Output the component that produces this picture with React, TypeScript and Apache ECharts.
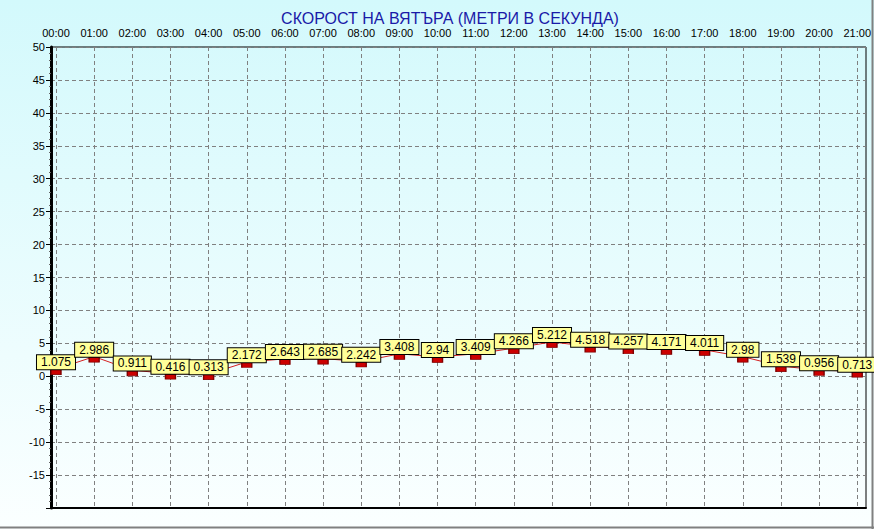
import React, { useEffect, useRef } from "react";
import * as echarts from "echarts";

const titleText = "СКОРОСТ НА ВЯТЪРА (МЕТРИ В СЕКУНДА)";
const hours = [
  "00:00", "01:00", "02:00", "03:00", "04:00", "05:00", "06:00", "07:00",
  "08:00", "09:00", "10:00", "11:00", "12:00", "13:00", "14:00", "15:00",
  "16:00", "17:00", "18:00", "19:00", "20:00", "21:00",
];
const windSpeed = [
  1.075, 2.986, 0.911, 0.416, 0.313, 2.172, 2.643, 2.685, 2.242, 3.408, 2.94,
  3.409, 4.266, 5.212, 4.518, 4.257, 4.171, 4.011, 2.98, 1.539, 0.956, 0.713,
];
const yMin = -20;
const yMax = 50;
const yStep = 5;

const FONT = "Liberation Sans, Arial, sans-serif";

export default function App() {
  const ref = useRef<HTMLDivElement>(null);
  useEffect(() => {
    if (!ref.current) return;
    const chart = echarts.init(ref.current, null, { renderer: "svg" });
    const gridGeom = { top: 47, bottom: 21 };
    chart.setOption({
      animation: false,
      backgroundColor: "transparent",
      title: {
        text: titleText,
        left: 445,
        textAlign: "center",
        top: 5,
        textStyle: { color: "#1a1aa8", fontSize: 16, fontWeight: "normal", fontFamily: FONT },
      },
      grid: [
        { left: 51, right: 8, ...gridGeom, show: true, borderColor: "#000", borderWidth: 1, backgroundColor: "transparent" },
        { left: 56, right: 15, ...gridGeom },
      ],
      xAxis: [
        {
          gridIndex: 0,
          type: "value",
          min: 0,
          max: 1,
          axisLine: { show: true, onZero: false, lineStyle: { color: "#000", width: 2 } },
          axisTick: { show: false },
          axisLabel: { show: false },
          splitLine: { show: false },
        },
        {
          gridIndex: 1,
          type: "category",
          data: hours,
          boundaryGap: false,
          position: "top",
          axisLine: { show: false },
          axisTick: { show: false },
          axisLabel: { color: "#000", fontSize: 11, fontFamily: FONT, margin: 9, interval: 0 },
          splitLine: { show: true, interval: 0, lineStyle: { color: "#808080", type: [4, 3], width: 1 } },
        },
      ],
      yAxis: [
        {
          gridIndex: 0,
          type: "value",
          min: yMin,
          max: yMax,
          interval: yStep,
          axisLine: { show: true, onZero: false, lineStyle: { color: "#000", width: 3 } },
          axisTick: { show: true, length: 5, lineStyle: { color: "#000" } },
          minorTick: { show: true, splitNumber: 5, length: 2, lineStyle: { color: "#666" } },
          axisLabel: {
            color: "#000",
            fontSize: 11,
            fontFamily: FONT,
            margin: 6,
            formatter: (v: number) => (v === yMin ? "" : String(v)),
          },
          splitLine: { show: true, lineStyle: { color: "#808080", type: [4, 3], width: 1 } },
        },
        {
          gridIndex: 1,
          type: "value",
          min: yMin,
          max: yMax,
          interval: yStep,
          show: false,
          splitLine: { show: false },
        },
      ],
      series: [
        {
          type: "line",
          xAxisIndex: 1,
          yAxisIndex: 1,
          data: windSpeed,
          lineStyle: { color: "#d42020", width: 1 },
          symbol: "rect",
          symbolSize: [10, 5],
          symbolOffset: [0, 3],
          itemStyle: { color: "#cc0000", borderColor: "#800000", borderWidth: 1 },
          label: {
            show: true,
            position: "top",
            distance: 0,
            color: "#000",
            fontSize: 12,
            fontFamily: FONT,
            backgroundColor: "#ffff99",
            borderColor: "#000",
            borderWidth: 1,
            padding: [1, 4, 1, 4],
            formatter: (p: any) => String(p.value),
          },
        },
      ],
      graphic: [
        { type: "line", shape: { x1: 0, y1: 527.5, x2: 874, y2: 527.5 }, style: { stroke: "#808080", lineWidth: 2 } },
        { type: "line", shape: { x1: 872.5, y1: 0, x2: 872.5, y2: 529 }, style: { stroke: "#808080", lineWidth: 2 } },
      ],
    });
    return () => chart.dispose();
  }, []);
  return (
    <div
      ref={ref}
      style={{
        position: "absolute",
        left: 0,
        top: 0,
        width: 874,
        height: 529,
        background: "linear-gradient(to bottom, #d3f9fc 0%, #fbffff 100%)",
      }}
    />
  );
}
